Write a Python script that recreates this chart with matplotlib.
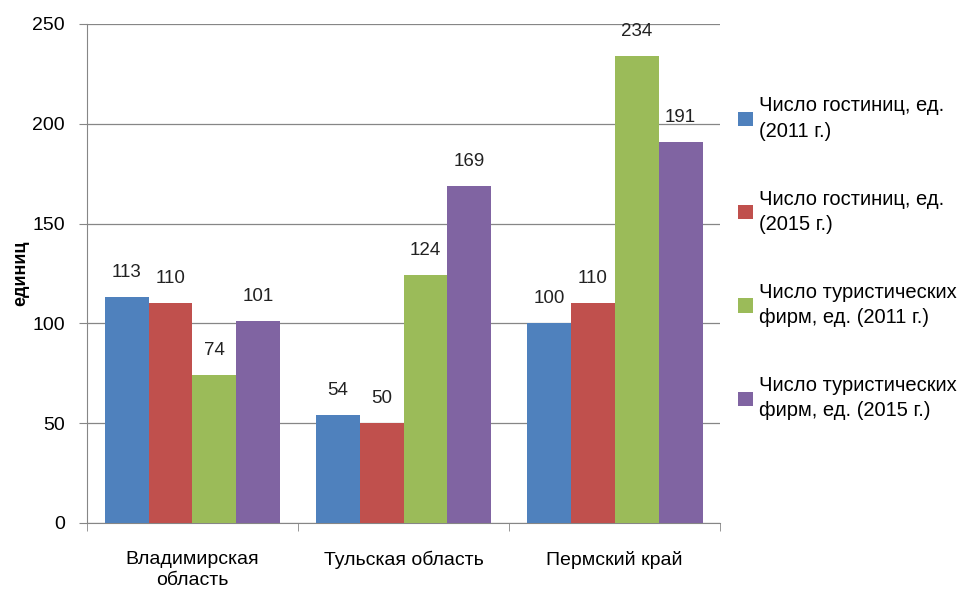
import numpy as np
import matplotlib.pyplot as plt

plt.rcParams['font.family'] = ['Liberation Sans', 'DejaVu Sans']

regions = ['Владимирская\nобласть', 'Тульская область', 'Пермский край']
hotels_2011 = [113, 54, 100]
hotels_2015 = [110, 50, 110]
firms_2011 = [74, 124, 234]
firms_2015 = [101, 169, 191]

series = [hotels_2011, hotels_2015, firms_2011, firms_2015]
names = ['Число гостиниц, ед.\n(2011 г.)', 'Число гостиниц, ед.\n(2015 г.)',
         'Число туристических\nфирм, ед. (2011 г.)', 'Число туристических\nфирм, ед. (2015 г.)']
colors = ['#4F81BD', '#C0504D', '#9BBB59', '#8064A2']

fig = plt.figure(figsize=(9.76, 5.92), dpi=100)
ax = fig.add_axes([0.089, 0.1166, 0.649, 0.843])

x = np.arange(len(regions))
w = 0.208
for i, (vals, name, c) in enumerate(zip(series, names, colors)):
    pos = x + (i - 1.5) * w
    ax.bar(pos, vals, width=w, color=c, label=name, zorder=3)
    for p, v in zip(pos, vals):
        ax.text(p, v + 8, str(v), ha='center', va='bottom', fontsize=13.5, color='#222222')

ax.set_xlim(-0.5, 2.5)
ax.set_ylim(0, 250)
ax.set_yticks(np.arange(0, 251, 50))
ax.yaxis.grid(True, color='#868686', linewidth=0.9, zorder=0)
ax.set_xticks(x)
ax.set_xticklabels(regions, fontsize=14, linespacing=1.3)
ax.set_xticks([-0.5, 0.5, 1.5, 2.5], minor=True)
ax.tick_params(axis='x', which='major', length=0, pad=20)
ax.tick_params(axis='x', which='minor', length=6, color='#868686')
ax.tick_params(axis='y', length=6, color='#868686', labelsize=14, pad=10)
for s in ['top', 'right']:
    ax.spines[s].set_visible(False)
for s in ['left', 'bottom']:
    ax.spines[s].set_color('#868686')
ax.set_ylabel('единиц', fontsize=13, fontweight='bold', labelpad=2)

leg = ax.legend(loc='center left', bbox_to_anchor=(1.0, 0.53), frameon=False, fontsize=14.5,
                handlelength=0.7, handleheight=0.7, handletextpad=0.3, labelspacing=2.4)
for t in leg.get_texts():
    t.set_linespacing(1.45)

fig.savefig('out.png', dpi=100)
